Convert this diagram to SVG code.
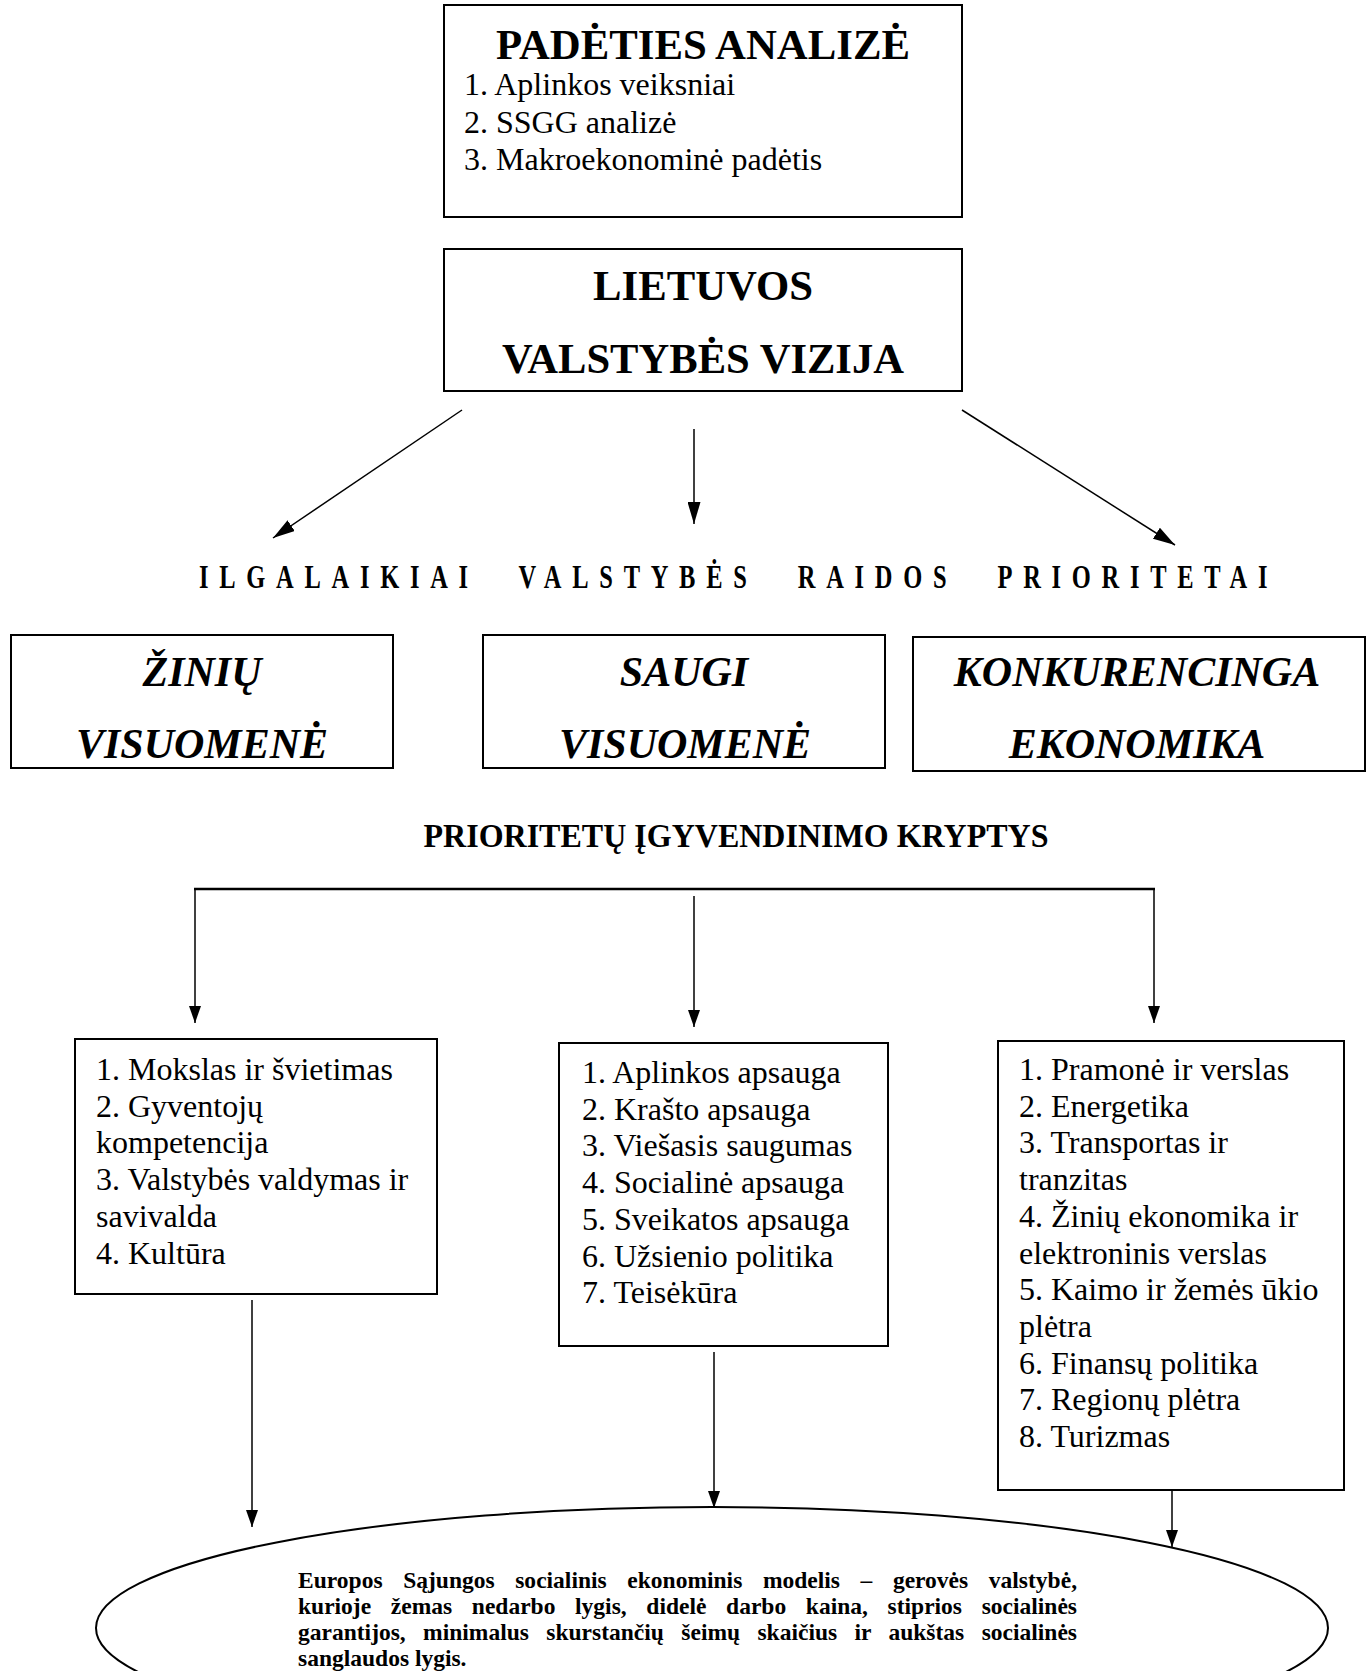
<svg xmlns="http://www.w3.org/2000/svg" width="1370" height="1671" viewBox="0 0 1370 1671">
<style>
text{font-family:"Liberation Serif","Times New Roman",serif;fill:#000}
.box{fill:#fff;stroke:#000;stroke-width:2}
.bt{font-size:43px;font-weight:bold;text-anchor:middle}
.it{font-size:42px;font-weight:bold;font-style:italic;text-anchor:middle}
.li{font-size:32px}
.ln{stroke:#000;stroke-width:1.5;fill:none}
.el{font-size:23.5px;font-weight:bold}
.sp{font-size:34px;font-weight:bold;letter-spacing:14.9px;word-spacing:32.5px}
</style>
<defs>
<marker id="ahBig" markerWidth="22" markerHeight="13" refX="22" refY="6.5" orient="auto" markerUnits="userSpaceOnUse"><path d="M0,0 L22,6.5 L0,13 Z" fill="#000"/></marker>
<marker id="ahSmall" markerWidth="17" markerHeight="12" refX="17" refY="6" orient="auto" markerUnits="userSpaceOnUse"><path d="M0,0 L17,6 L0,12 Z" fill="#000"/></marker>
</defs>
<rect width="1370" height="1671" fill="#fff"/>

<g id="padeties-analize">
<rect class="box" x="444" y="5" width="518" height="212"/>
<text class="bt" x="703" y="59" textLength="414" lengthAdjust="spacingAndGlyphs">PADĖTIES ANALIZĖ</text>
<text class="li" x="464" y="95">1. Aplinkos veiksniai</text>
<text class="li" x="464" y="132.5">2. SSGG analizė</text>
<text class="li" x="464" y="170">3. Makroekonominė padėtis</text>
</g>

<g id="vizija">
<rect class="box" x="444" y="249" width="518" height="142"/>
<text class="bt" x="703" y="300" textLength="220" lengthAdjust="spacingAndGlyphs">LIETUVOS</text>
<text class="bt" x="703" y="373" textLength="402" lengthAdjust="spacingAndGlyphs">VALSTYBĖS VIZIJA</text>
</g>

<g id="prioritetai-antraste">
<text class="sp" transform="scale(0.72,1)" x="276.4" y="588">ILGALAIKIAI VALSTYBĖS RAIDOS PRIORITETAI</text>
</g>

<g id="ziniu-visuomene">
<rect class="box" x="11" y="635" width="382" height="133"/>
<text class="it" x="202" y="686">ŽINIŲ</text>
<text class="it" x="202" y="758">VISUOMENĖ</text>
</g>

<g id="saugi-visuomene">
<rect class="box" x="483" y="635" width="402" height="133"/>
<text class="it" x="684" y="686">SAUGI</text>
<text class="it" x="685" y="758">VISUOMENĖ</text>
</g>

<g id="konkurencinga-ekonomika">
<rect class="box" x="913" y="637" width="452" height="134"/>
<text class="it" x="1137" y="686">KONKURENCINGA</text>
<text class="it" x="1137" y="758">EKONOMIKA</text>
</g>

<g id="kryptys-antraste">
<text x="736" y="847" style="font-size:34px;font-weight:bold;text-anchor:middle" textLength="625" lengthAdjust="spacingAndGlyphs">PRIORITETŲ ĮGYVENDINIMO KRYPTYS</text>
</g>

<g id="kryptys-ziniu">
<rect class="box" x="75" y="1039" width="362" height="255"/>
<text class="li" x="96" y="1080">1. Mokslas ir švietimas</text>
<text class="li" x="96" y="1116.7">2. Gyventojų</text>
<text class="li" x="96" y="1153.4">kompetencija</text>
<text class="li" x="96" y="1190.1">3. Valstybės valdymas ir</text>
<text class="li" x="96" y="1226.8">savivalda</text>
<text class="li" x="96" y="1263.5">4. Kultūra</text>
</g>

<g id="kryptys-saugi">
<rect class="box" x="559" y="1043" width="329" height="303"/>
<text class="li" x="582" y="1083">1. Aplinkos apsauga</text>
<text class="li" x="582" y="1119.7">2. Krašto apsauga</text>
<text class="li" x="582" y="1156.4">3. Viešasis saugumas</text>
<text class="li" x="582" y="1193.1">4. Socialinė apsauga</text>
<text class="li" x="582" y="1229.8">5. Sveikatos apsauga</text>
<text class="li" x="582" y="1266.5">6. Užsienio politika</text>
<text class="li" x="582" y="1303.2">7. Teisėkūra</text>
</g>

<g id="kryptys-ekonomika">
<rect class="box" x="998" y="1041" width="346" height="449"/>
<text class="li" x="1019" y="1080">1. Pramonė ir verslas</text>
<text class="li" x="1019" y="1116.7">2. Energetika</text>
<text class="li" x="1019" y="1153.4">3. Transportas ir</text>
<text class="li" x="1019" y="1190.1">tranzitas</text>
<text class="li" x="1019" y="1226.8">4. Žinių ekonomika ir</text>
<text class="li" x="1019" y="1263.5">elektroninis verslas</text>
<text class="li" x="1019" y="1300.2">5. Kaimo ir žemės ūkio</text>
<text class="li" x="1019" y="1336.9">plėtra</text>
<text class="li" x="1019" y="1373.6">6. Finansų politika</text>
<text class="li" x="1019" y="1410.3">7. Regionų plėtra</text>
<text class="li" x="1019" y="1447">8. Turizmas</text>
</g>

<g id="es-modelis">
<ellipse cx="712" cy="1628" rx="616" ry="121" fill="#fff" stroke="#000" stroke-width="2"/>
<text class="el" x="298" y="1588" style="word-spacing:14.7px" textLength="779" lengthAdjust="spacing">Europos Sąjungos socialinis ekonominis modelis – gerovės valstybė,</text>
<text class="el" x="298" y="1614" style="word-spacing:13.8px" textLength="779" lengthAdjust="spacing">kurioje žemas nedarbo lygis, didelė darbo kaina, stiprios socialinės</text>
<text class="el" x="298" y="1640" style="word-spacing:11.5px" textLength="779" lengthAdjust="spacing">garantijos, minimalus skurstančių šeimų skaičius ir aukštas socialinės</text>
<text class="el" x="298" y="1666">sanglaudos lygis.</text>
</g>

<g id="connectors">
<line class="ln" x1="462" y1="410" x2="273" y2="538" marker-end="url(#ahBig)"/>
<line class="ln" x1="694" y1="429" x2="694" y2="524" marker-end="url(#ahBig)"/>
<line class="ln" x1="962" y1="410" x2="1175" y2="545" marker-end="url(#ahBig)"/>
<line x1="194" y1="889" x2="1155" y2="889" stroke="#000" stroke-width="2.5"/>
<line class="ln" x1="195" y1="889" x2="195" y2="1023" marker-end="url(#ahSmall)"/>
<line class="ln" x1="694" y1="896" x2="694" y2="1027" marker-end="url(#ahSmall)"/>
<line class="ln" x1="1154" y1="889" x2="1154" y2="1023" marker-end="url(#ahSmall)"/>
<line class="ln" x1="252" y1="1300" x2="252" y2="1527" marker-end="url(#ahSmall)"/>
<line class="ln" x1="714" y1="1352" x2="714" y2="1508" marker-end="url(#ahSmall)"/>
<line class="ln" x1="1172" y1="1491" x2="1172" y2="1547" marker-end="url(#ahSmall)"/>
</g>
</svg>
